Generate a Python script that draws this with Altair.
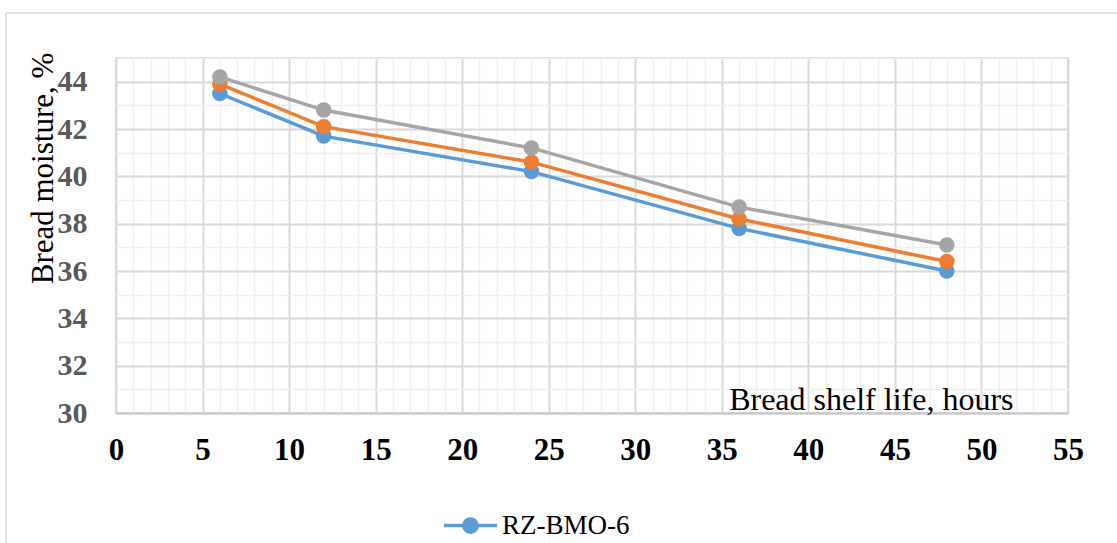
import altair as alt
import pandas as pd

hours = [6, 12, 24, 36, 48]
series_names = ["RZ-BMO-6", "Series 2", "Series 3"]
blue_vals = [43.5, 41.7, 40.2, 37.8, 36.0]
orange_vals = [43.9, 42.1, 40.6, 38.2, 36.4]
gray_vals = [44.2, 42.8, 41.2, 38.7, 37.1]
colors = ["#5B9BD5", "#ED7D31", "#A5A5A5"]
x_ticks = list(range(0, 56))
y_ticks = list(range(30, 46))

rows = []
for name, vals in zip(series_names, [blue_vals, orange_vals, gray_vals]):
    for h, v in zip(hours, vals):
        rows.append({"hours": h, "moisture": v, "series": name})
df = pd.DataFrame(rows)

FONT = "Liberation Serif"

color_scale = alt.Scale(domain=series_names, range=colors)
legend_path = ("M-1,0L1,0M-0.25,0A0.25,0.25,0,1,0,0.25,0"
               "A0.25,0.25,0,1,0,-0.25,0Z")

x_enc = alt.X(
    "hours:Q",
    scale=alt.Scale(domain=[0, 55], nice=False, zero=False),
    axis=alt.Axis(
        values=x_ticks,
        labelExpr="datum.value % 5 === 0 ? datum.label : ''",
        labelOverlap=False,
        labelFlush=False,
        labelBound=False,
        ticks=False,
        labelPadding=22,
        labelFont=FONT,
        labelFontSize=31,
        labelFontWeight="bold",
        labelColor="#000000",
        domain=True,
        domainColor="#C8C8C8",
        domainWidth=2,
        grid=True,
        gridColor={"condition": {"test": "datum.value % 5 === 0", "value": "#D9D9D9"}, "value": "#F0F0F0"},
        gridWidth={"condition": {"test": "datum.value % 5 === 0", "value": 2}, "value": 1.5},
        title="Bread shelf life, hours",
        titleFont=FONT,
        titleFontSize=32,
        titleFontWeight="normal",
        titleColor="#000000",
        titleAlign="right",
        titleBaseline="alphabetic",
        titleX=897,
        titleY=-4,
    ),
)

y_enc = alt.Y(
    "moisture:Q",
    scale=alt.Scale(domain=[30, 45], nice=False, zero=False),
    axis=alt.Axis(
        values=y_ticks,
        labelExpr="(datum.value % 2 === 0 && datum.value < 45) ? datum.label : ''",
        labelOverlap=False,
        labelFlush=False,
        labelBound=False,
        ticks=False,
        labelPadding=29,
        labelFont=FONT,
        labelFontSize=30,
        labelFontWeight="bold",
        labelColor="#595959",
        domain=False,
        grid=True,
        gridColor={"condition": {"test": "datum.value % 2 === 0", "value": "#D9D9D9"}, "value": "#F0F0F0"},
        gridWidth={"condition": {"test": "datum.value % 2 === 0", "value": 2}, "value": 1.5},
        title="Bread moisture, %",
        titleFont=FONT,
        titleFontSize=31,
        titleFontWeight="normal",
        titleColor="#000000",
        titleAngle=270,
        titleAlign="center",
        titleBaseline="middle",
        titleX=-73,
        titleY=110,
    ),
)

base = alt.Chart(df).encode(x=x_enc, y=y_enc)

lines = base.mark_line(strokeWidth=3.5).encode(
    color=alt.Color(
        "series:N",
        scale=color_scale,
        sort=series_names,
        legend=alt.Legend(
            values=["RZ-BMO-6"],
            title=None,
            orient="none",
            legendX=326,
            legendY=439,
            symbolType=legend_path,
            symbolSize=2809,
            symbolStrokeWidth=3.5,
            symbolFillColor="#5B9BD5",
            labelFont=FONT,
            labelFontSize=27,
            labelColor="#000000",
            labelOffset=3,
            labelLimit=400,
        ),
    ),
    detail="series:N",
)

points = base.mark_point(filled=True, size=240, opacity=1).encode(
    fill=alt.Fill("series:N", scale=color_scale, legend=None),
)

frame = pd.DataFrame({"k": [0]})
border_left = alt.Chart(frame).mark_rule(color="#D9D9D9", strokeWidth=1.5).encode(
    x=alt.value(-110), y=alt.value(-45), y2=alt.value(490)
)
border_top = alt.Chart(frame).mark_rule(color="#D9D9D9", strokeWidth=1.5).encode(
    x=alt.value(-110), x2=alt.value(1010), y=alt.value(-45)
)

chart = alt.layer(lines, points, border_left, border_top).resolve_scale(
    color="independent"
).properties(
    width=952,
    height=355,
    autosize=alt.AutoSizeParams(type="none"),
    padding={"left": 116, "top": 58, "right": 49, "bottom": 130},
    background="#FFFFFF",
).configure_view(
    stroke="#D9D9D9", strokeWidth=2
)

chart.save("out.html", embed_options={"renderer": "svg", "actions": False})
